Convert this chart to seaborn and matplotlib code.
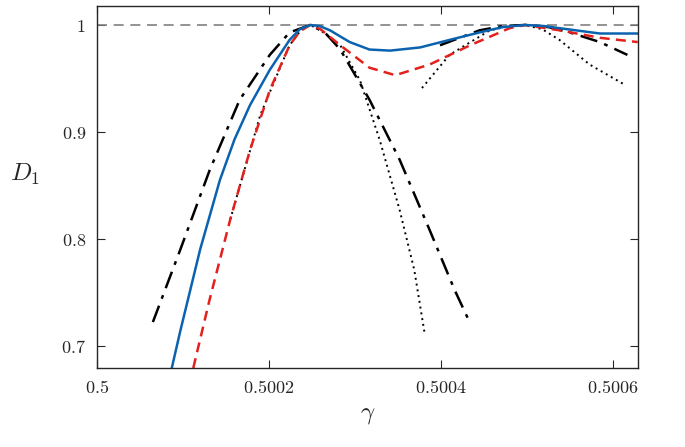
import numpy as np
import pandas as pd
import matplotlib
matplotlib.use("Agg")
import matplotlib.pyplot as plt
import seaborn as sns
from matplotlib.ticker import FuncFormatter

# values
blue_x = [0.500087, 0.500097, 0.500120, 0.500143, 0.500160, 0.500178, 0.500201, 0.500224, 0.500236,
          0.500248, 0.500259, 0.500271, 0.500294, 0.500317, 0.500341, 0.500376, 0.500410, 0.500445,
          0.500472, 0.500498, 0.500520, 0.500538, 0.500585, 0.500629]
blue_y = [0.679, 0.714, 0.790, 0.855, 0.893, 0.925, 0.958, 0.986, 0.996,
          1.000, 0.999, 0.995, 0.984, 0.977, 0.976, 0.979, 0.986, 0.993,
          0.998, 1.000, 0.999, 0.997, 0.992, 0.992]

red_x = [0.500112, 0.500131, 0.500155, 0.500178, 0.500201, 0.500224, 0.500236, 0.500248, 0.500260,
         0.500283, 0.500317, 0.500347, 0.500387, 0.500434, 0.500480, 0.500498, 0.500538, 0.500585,
         0.500629]
red_y = [0.679, 0.743, 0.818, 0.883, 0.939, 0.981, 0.994, 1.000, 0.996,
         0.981, 0.960, 0.953, 0.963, 0.981, 0.997, 1.000, 0.995, 0.988, 0.984]

dd1_x = [0.500065, 0.500097, 0.500131, 0.500166, 0.500201, 0.500224, 0.500248, 0.500265, 0.500283,
         0.500317, 0.500352, 0.500387, 0.500416, 0.500434]
dd1_y = [0.722, 0.790, 0.864, 0.930, 0.972, 0.993, 1.000, 0.993, 0.977,
         0.930, 0.874, 0.808, 0.752, 0.721]
dd2_x = [0.500399, 0.500445, 0.500472, 0.500498, 0.500525, 0.500550, 0.500585, 0.500617]
dd2_y = [0.981, 0.995, 0.999, 1.000, 0.998, 0.993, 0.984, 0.972]

dot1_x = [0.500155, 0.500190, 0.500224, 0.500237, 0.500248, 0.500260, 0.500283, 0.500306,
          0.500329, 0.500352, 0.500369, 0.500381]
dot1_y = [0.818, 0.916, 0.981, 0.995, 1.000, 0.995, 0.981, 0.948, 0.892, 0.827, 0.771, 0.712]
dot2_x = [0.500378, 0.500410, 0.500457, 0.500480, 0.500498, 0.500518, 0.500538, 0.500573, 0.500614]
dot2_y = [0.941, 0.972, 0.995, 0.999, 1.000, 0.996, 0.986, 0.963, 0.944]

xticks = [0.5, 0.5002, 0.5004, 0.5006]
yticks = [0.7, 0.8, 0.9, 1.0]

sns.set_style("ticks")
plt.rcParams["mathtext.fontset"] = "cm"
plt.rcParams["font.family"] = ["DejaVu Serif"]

fig = plt.figure(figsize=(6.85, 4.47), dpi=100)
ax = fig.add_axes([0.1416, 0.1767, 0.7894, 0.81])

ax.axhline(1.0, color="gray", ls=(0, (6, 4)), lw=1.2)
sns.lineplot(x=dot1_x, y=dot1_y, ax=ax, color="black", ls=(0, (1, 2)), lw=1.4, sort=False)
sns.lineplot(x=dot2_x, y=dot2_y, ax=ax, color="black", ls=(0, (1, 2)), lw=1.4, sort=False)
sns.lineplot(x=dd1_x, y=dd1_y, ax=ax, color="black", ls=(0, (7, 3, 1.5, 3)), lw=1.8, sort=False)
sns.lineplot(x=dd2_x, y=dd2_y, ax=ax, color="black", ls=(0, (7, 3, 1.5, 3)), lw=1.8, sort=False)
sns.lineplot(x=red_x, y=red_y, ax=ax, color="#e3201b", ls=(0, (4, 2.5)), lw=1.8, sort=False)
sns.lineplot(x=blue_x, y=blue_y, ax=ax, color="#0b63b0", lw=1.8, sort=False)

ax.set_xlim(0.5, 0.500629)
ax.set_ylim(0.679, 1.0178)
ax.set_xticks(xticks)
ax.set_yticks(yticks)
ax.xaxis.set_major_formatter(FuncFormatter(lambda v, p: "$%g$" % round(v, 4)))
ax.yaxis.set_major_formatter(FuncFormatter(lambda v, p: "$%g$" % round(v, 1)))
ax.tick_params(direction="in", top=True, right=True, length=6, labelsize=13, pad=8)
for s in ax.spines.values():
    s.set_linewidth(1.0)
ax.set_xlabel(r"$\gamma$", fontsize=18)
ax.set_ylabel(r"$D_1$", fontsize=18, rotation=0, labelpad=26)

fig.savefig("out.png", dpi=100)
